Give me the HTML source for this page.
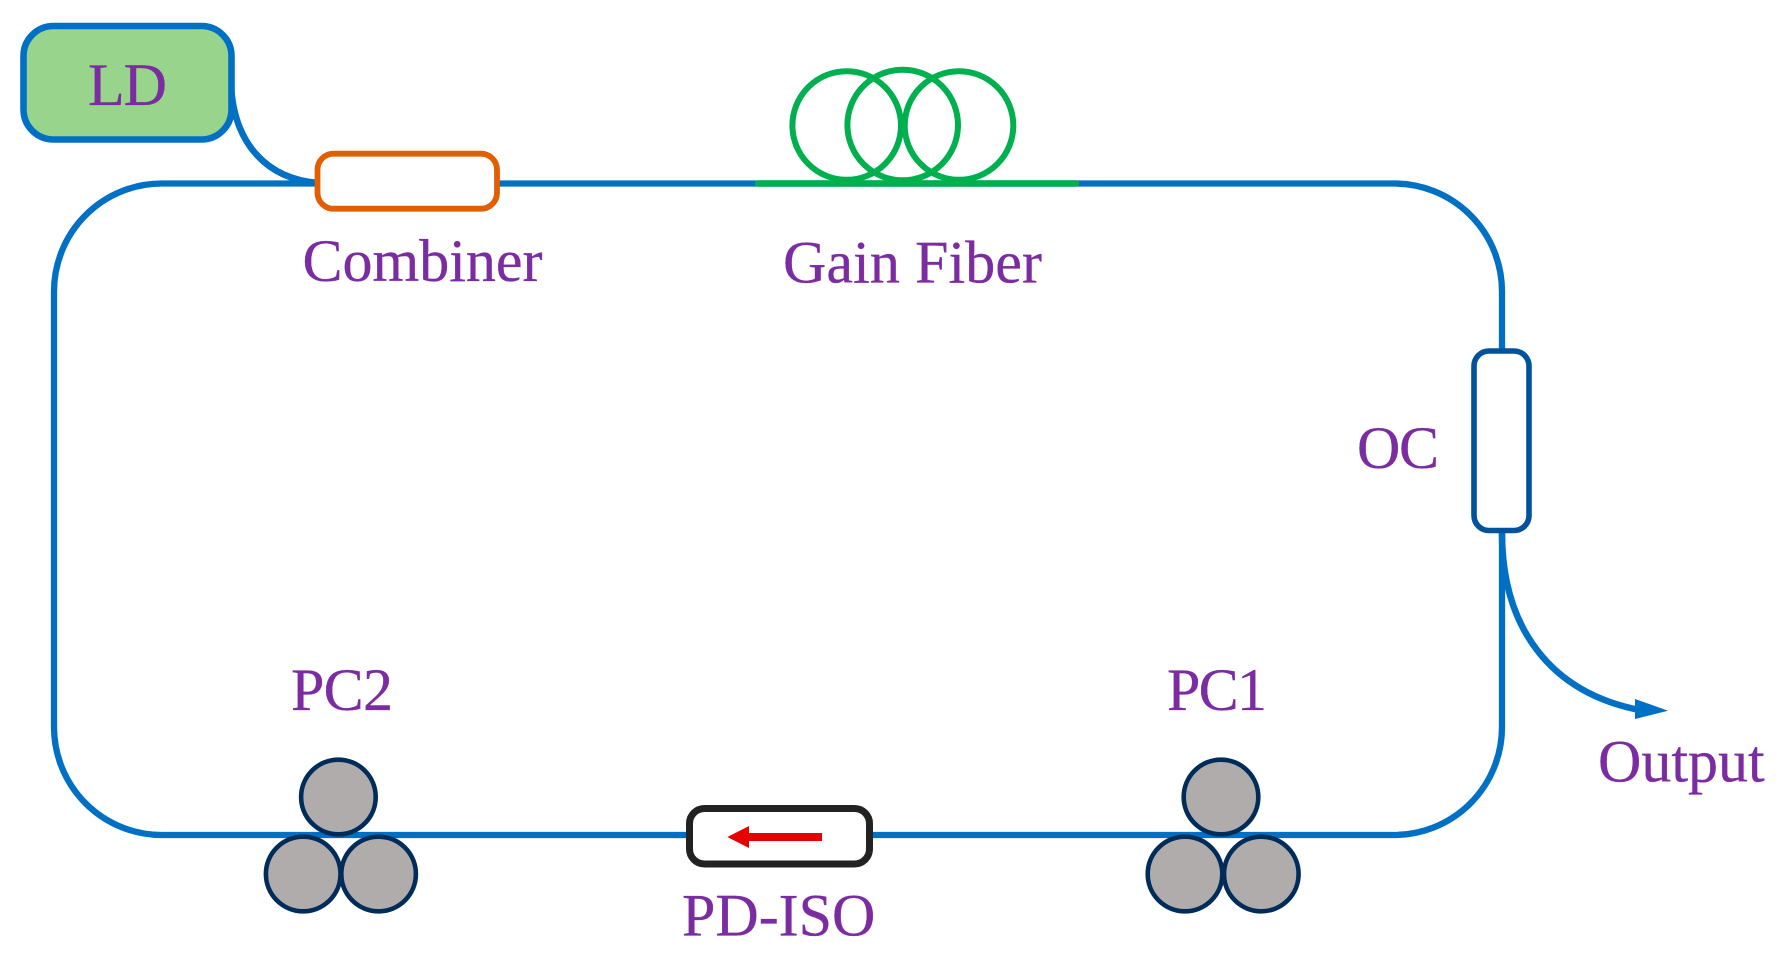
<!DOCTYPE html>
<html>
<head>
<meta charset="utf-8">
<style>
html,body{margin:0;padding:0;background:#fff;width:1782px;height:960px;overflow:hidden}
svg{display:block}
text{font-family:"Liberation Serif",serif;font-size:60px;fill:#7b2ca1;stroke:#7b2ca1;stroke-width:.3}
</style>
</head>
<body>
<svg width="1782" height="960" viewBox="0 0 1782 960" xmlns="http://www.w3.org/2000/svg">
<rect width="1782" height="960" fill="#fff"/>
<!-- main loop -->
<rect x="54" y="183.5" width="1448" height="651.5" rx="108" ry="108" fill="none" stroke="#0070c5" stroke-width="6.3"/>
<!-- LD to combiner -->
<path d="M231 85 C234 145 268 179 318 183" fill="none" stroke="#0070c5" stroke-width="6.5"/>
<!-- LD -->
<rect x="23.5" y="26" width="208" height="113.5" rx="30" ry="30" fill="#98d48b" stroke="#0070c5" stroke-width="6.6"/>
<text x="88" y="105" textLength="79">LD</text>
<!-- Combiner -->
<rect x="317.5" y="153.7" width="179.5" height="55" rx="16" ry="16" fill="#fff" stroke="#e15f00" stroke-width="5.8"/>
<text x="302.5" y="281">Combiner</text>
<!-- Gain fiber -->
<circle cx="846.7" cy="125.5" r="54.3" fill="none" stroke="#00b04f" stroke-width="6"/>
<circle cx="902.7" cy="125" r="55.3" fill="none" stroke="#00b04f" stroke-width="6"/>
<circle cx="959" cy="125.5" r="54.3" fill="none" stroke="#00b04f" stroke-width="6"/>
<line x1="758" y1="183.5" x2="1076" y2="183.5" stroke="#00b04f" stroke-width="6.5" stroke-linecap="round"/>
<text x="783" y="282.5" textLength="259">Gain Fiber</text>
<!-- OC -->
<path d="M1502 533 C1502 625 1548 693 1642 710.5" fill="none" stroke="#0070c5" stroke-width="6.5"/>
<polygon points="1635,699 1668,710.7 1635,719" fill="#0070c5"/>
<rect x="1474" y="351" width="55" height="179.5" rx="15" ry="15" fill="#fff" stroke="#00539b" stroke-width="5.6"/>
<text x="1357" y="468" textLength="82">OC</text>
<text x="1598" y="781.5">Output</text>
<!-- PC2 -->
<g fill="#b0acac" stroke="#002c5a" stroke-width="4.6">
<circle cx="338.4" cy="797" r="37.3"/>
<circle cx="303.2" cy="874" r="37.3"/>
<circle cx="378.6" cy="874" r="37.3"/>
</g>
<text x="291" y="710" textLength="102">PC2</text>
<!-- PC1 -->
<g fill="#b0acac" stroke="#002c5a" stroke-width="4.6">
<circle cx="1221" cy="797" r="37.3"/>
<circle cx="1185" cy="874" r="37.3"/>
<circle cx="1261.3" cy="874" r="37.3"/>
</g>
<text x="1167" y="710" textLength="100">PC1</text>
<!-- PD-ISO -->
<rect x="689.5" y="808.5" width="180" height="55.5" rx="15" ry="15" fill="#fff" stroke="#222" stroke-width="7"/>
<rect x="748" y="833" width="74" height="8" fill="#e60000"/>
<polygon points="727.4,837 749,826 749,848" fill="#e60000"/>
<text x="682" y="935.5">PD-ISO</text>
</svg>
</body>
</html>
